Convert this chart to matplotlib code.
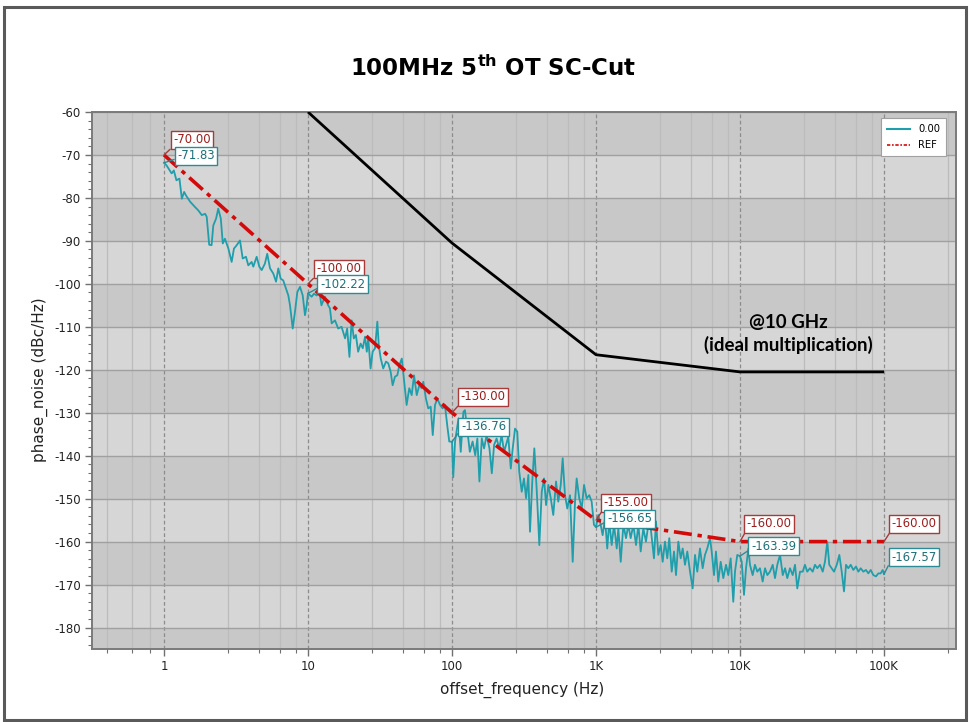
import matplotlib
matplotlib.use("Agg")
import matplotlib.pyplot as plt
from matplotlib.patches import Rectangle
from matplotlib.lines import Line2D
from matplotlib.ticker import FixedLocator, NullFormatter

plt.rcParams['mathtext.fontset'] = 'custom'
plt.rcParams['mathtext.rm'] = 'DejaVu Sans:bold'
plt.rcParams['mathtext.bf'] = 'DejaVu Sans:bold'

# ---------------- data ----------------
title = "100MHz 5$^{\\mathrm{th}}$ OT SC-Cut"
xlabel = "offset_frequency (Hz)"
ylabel = "phase_noise (dBc/Hz)"

x_ticks = [1, 10, 100, 1000, 10000, 100000]
x_tick_labels = ["1", "10", "100", "1K", "10K", "100K"]
y_ticks = [-60, -70, -80, -90, -100, -110, -120, -130, -140, -150, -160, -170, -180]

# measured trace "0.00"
meas_f = [1, 1.04, 1.13, 1.17, 1.22, 1.28, 1.33, 1.38, 1.42, 1.52, 1.64, 1.73, 1.83, 1.93, 1.98,
          2.06, 2.14, 2.20, 2.30, 2.38, 2.48, 2.56, 2.65, 2.80, 2.95, 3.06, 3.20, 3.37, 3.52, 3.71,
          3.85, 4.06, 4.17, 4.40, 4.59, 4.77, 5.02, 5.21, 5.45, 5.74, 6.00, 6.22, 6.46, 6.73, 7.03,
          7.30, 7.50, 7.83, 8.12, 8.43, 8.80, 9.19, 9.53, 9.79, 10, 10.6, 11.0, 11.5, 12.0, 12.4,
          13.1, 13.8, 14.2, 14.6, 15.4, 16.2, 17.1, 18.1, 18.7, 19.4, 20.1, 20.8, 21.5, 22.3, 23.2,
          24.0, 24.9, 25.6, 26.2, 27.2, 28.1, 29.2, 30.3, 31.0, 32.0, 33.3, 34.8, 36.1, 37.5, 38.7,
          40.2, 41.7, 43.1, 44.8, 46.4, 48.4, 50.5, 52.5, 54.5, 56.9, 59.3, 61.6, 63.2, 65.9, 68.4,
          71.1, 73.5, 76.2, 79.1, 82.6, 86.1, 89.3, 92.7, 95.7, 100, 102, 105, 111, 115, 120,
          123, 128, 133, 139, 145, 150, 155, 161, 167, 174, 182, 189, 196, 204, 213,
          221, 230, 237, 246, 256, 264, 274, 284, 293, 305, 316, 327, 339, 348, 361,
          373, 387, 404, 420, 436, 450, 467, 485, 505, 528, 547, 569, 587, 609, 632,
          660, 689, 715, 734, 765, 796, 826, 861, 898, 933, 968, 1000, 1037, 1066, 1112,
          1155, 1197, 1236, 1285, 1334, 1393, 1429, 1485, 1549, 1616, 1676, 1741, 1816, 1897, 1968,
          2044, 2130, 2224, 2307, 2371, 2527, 2610, 2709, 2812, 2904, 3013, 3126, 3228, 3356, 3483,
          3595, 3731, 3873, 4000, 4150, 4306, 4498, 4691, 4872, 5050, 5272, 5505, 5710, 5925, 6190,
          6360, 6600, 6810, 7065, 7345, 7655, 7995, 8295, 8615, 8980, 9230, 9575, 10000, 10280, 10660,
          11010, 11430, 11730, 12240, 12700, 13180, 13760, 14370, 14920, 15480, 16150, 16870, 17500, 18160, 18970,
          19810, 20550, 21300, 22240, 23230, 24100, 25000, 26100, 27250, 28250, 29310, 30600, 31970, 33170, 34420,
          35940, 37530, 38910, 40380, 41690, 43330, 44970, 46970, 48970, 50850, 52760, 54480, 56510, 58720, 61230,
          63920, 66370, 68890, 71830, 75000, 77820, 80840, 84330, 87980, 91300, 94770, 97930, 100000]
meas_db = [-71.83, -72.4, -74.3, -73.6, -75.9, -75.5, -80.2, -78.6, -79.4, -80.9, -82.1, -82.9, -84.0, -83.7, -84.4,
           -90.9, -91.0, -86.4, -84.8, -82.5, -84.8, -90.6, -89.5, -91.8, -94.9, -91.8, -91.0, -89.9, -94.1, -93.7,
           -95.7, -94.9, -96.0, -93.7, -96.0, -96.8, -95.3, -93.0, -96.4, -97.6, -99.5, -96.4, -98.8, -99.2, -101.1,
           -102.7, -105.0, -110.4, -106.5, -101.9, -100.7, -102.7, -107.3, -105.0, -102.22, -103.0, -102.3, -102.7, -101.9, -105.0,
           -103.0, -105.0, -105.7, -109.2, -108.5, -110.4, -110.0, -112.7, -110.4, -117.0, -108.5, -112.7, -111.9, -115.8, -113.9,
           -115.0, -112.3, -115.8, -112.7, -119.7, -115.8, -115.0, -108.8, -114.3, -117.4, -119.7, -118.1, -118.5, -120.5, -123.6,
           -121.6, -121.3, -118.9, -117.4, -122.4, -128.2, -124.3, -125.9, -121.3, -125.9, -123.6, -124.3, -122.8, -126.7, -129.0,
           -128.6, -135.2, -128.2, -126.7, -128.2, -129.0, -128.2, -133.0, -136.7, -136.76, -145.0, -136.7, -131.3, -139.1, -129.8,
           -129.4, -134.4, -139.1, -136.7, -139.9, -136.0, -146.0, -136.0, -138.3, -135.2, -138.3, -144.1, -137.5, -136.0, -138.3,
           -135.2, -139.1, -137.5, -135.6, -143.0, -138.3, -133.7, -134.4, -143.7, -148.4, -145.3, -149.9, -144.5, -157.7, -146.0,
           -138.3, -147.6, -160.8, -148.4, -145.3, -151.5, -146.8, -149.9, -153.8, -146.0, -150.7, -146.8, -140.6, -149.2, -152.3,
           -149.2, -164.7, -150.7, -145.3, -149.9, -152.3, -146.8, -149.9, -149.2, -150.7, -156.1, -156.65, -153.8, -155.3, -158.5,
           -154.6, -161.6, -155.3, -160.8, -156.1, -161.6, -156.9, -164.7, -156.1, -159.2, -156.1, -159.2, -156.1, -160.8, -156.1,
           -162.3, -156.9, -160.0, -156.1, -155.3, -163.9, -155.3, -163.1, -160.8, -164.7, -160.0, -163.9, -159.2, -167.0, -162.3,
           -167.8, -160.0, -163.9, -161.6, -165.4, -162.3, -167.0, -170.9, -163.1, -167.0, -161.6, -166.2, -163.1, -161.6, -159.2,
           -162.3, -167.8, -162.3, -169.3, -164.7, -168.5, -165.4, -167.8, -163.9, -174.0, -167.0, -163.1, -163.39, -164.7, -172.4,
           -166.2, -161.6, -165.4, -167.8, -165.4, -167.0, -166.2, -169.3, -166.2, -167.8, -167.0, -165.4, -168.5, -165.4, -163.1,
           -167.8, -166.2, -168.5, -166.2, -167.8, -165.4, -170.9, -167.0, -167.0, -165.4, -167.0, -166.2, -167.0, -165.4, -166.2,
           -165.4, -167.0, -164.7, -160.0, -165.4, -166.2, -167.0, -165.4, -163.1, -167.0, -171.6, -165.4, -166.2, -165.4, -166.6,
           -165.8, -167.0, -166.2, -167.0, -166.6, -167.4, -166.6, -167.8, -168.1, -167.4, -167.4, -166.6, -167.57]

# reference mask "REF"
ref_f = [1, 10, 100, 1000, 10000, 100000]
ref_db = [-70, -100, -130, -155, -160, -160]

# 10 GHz (ideal multiplication) line
ghz_f = [10, 100, 1000, 10000, 100000]
ghz_db = [-60, -90.5, -116.5, -120.5, -120.5]

ref_labels = ["-70.00", "-100.00", "-130.00", "-155.00", "-160.00", "-160.00"]
meas_label_f = [1, 10, 100, 1000, 10000, 100000]
meas_label_db = [-71.83, -102.22, -136.76, -156.65, -163.39, -167.57]
meas_labels = ["-71.83", "-102.22", "-136.76", "-156.65", "-163.39", "-167.57"]

# ---------------- styling ----------------
W, H = 969, 722
fig = plt.figure(figsize=(W / 100, H / 100), dpi=100)
fig.patch.set_facecolor("white")

L, R, B, T = 92, 956, 649, 112
ax = fig.add_axes([L / W, 1 - B / H, (R - L) / W, (B - T) / H])

teal = "#1f9eab"
red = "#d40a0a"
light = "#d6d6d6"
dark = "#c8c8c8"

ax.set_facecolor(light)
ax.set_xscale("log")
ax.set_xlim(10 ** -0.5, 10 ** 5.5)
ax.set_ylim(-185, -60)

for k in range(0, 13, 2):
    top = -60 - 10 * k
    ax.axhspan(top - 10, top, color=dark, zorder=0, lw=0)

# grid lines
minor_x = [0.4, 0.6, 0.8]
for d in [1, 10, 100, 1000, 10000, 100000]:
    minor_x += [2.8 * d, 4.6 * d, 6.4 * d, 8.2 * d]
for mx in minor_x:
    ax.axvline(mx, color="#bcbcbc", lw=0.9, zorder=0.5)
for mj in x_ticks:
    ax.axvline(mj, color="#8c8c8c", lw=0.9, ls=(0, (3, 2)), zorder=0.5)
for yt in y_ticks:
    ax.axhline(yt, color="#a0a0a0", lw=1.0, zorder=0.6)

ax.set_xticks(x_ticks)
ax.set_xticklabels(x_tick_labels)
ax.xaxis.set_minor_locator(FixedLocator(minor_x))
ax.xaxis.set_minor_formatter(NullFormatter())
ax.set_yticks(y_ticks)
ax.set_yticklabels([str(v) for v in y_ticks])
ax.yaxis.set_minor_locator(FixedLocator(list(range(-184, -59, 2))))
ax.tick_params(axis="both", which="major", length=5, width=1, color="#707070",
               labelsize=8.5, labelcolor="#222222", pad=3)
ax.tick_params(axis="both", which="minor", length=3, width=0.8, color="#707070")
for s in ax.spines.values():
    s.set_color("#7a7a7a")
    s.set_linewidth(1.4)

# data lines
ax.plot(ghz_f, ghz_db, color="black", lw=2.0, zorder=3, solid_capstyle="butt")
ax.plot(meas_f, meas_db, color=teal, lw=1.3, zorder=4)
ax.plot(ref_f, ref_db, color=red, lw=2.6, ls=(0, (5, 1.6, 1.2, 1.6)), zorder=5)

# value labels
ref_off = [(28, 15), (31, 15), (31, 16), (30, 17.5), (29, 18), (30, 18)]
meas_off = [(32, 7), (34.5, 9), (31.5, 15), (33.5, 8.6), (33.5, 10), (30, 17)]
for f, v, s, off in zip(ref_f, ref_db, ref_labels, ref_off):
    ax.annotate(s, xy=(f, v), xytext=off, textcoords="offset pixels",
                ha="center", va="center", fontsize=8.4, color="#9c1c1c",
                bbox=dict(boxstyle="square,pad=0.22", fc="white", ec="#a83a3a", lw=1.0),
                arrowprops=dict(arrowstyle="-", color="#a83a3a", lw=1.0, shrinkA=0, shrinkB=0,
                                relpos=(0, 0)),
                zorder=7, annotation_clip=False)
for f, v, s, off in zip(meas_label_f, meas_label_db, meas_labels, meas_off):
    ax.annotate(s, xy=(f, v), xytext=off, textcoords="offset pixels",
                ha="center", va="center", fontsize=8.4, color="#1d6f78",
                bbox=dict(boxstyle="square,pad=0.22", fc="white", ec="#2c8c96", lw=1.0),
                arrowprops=dict(arrowstyle="-", color="#2c8c96", lw=1.0, shrinkA=0, shrinkB=0,
                                relpos=(0, 0.3)),
                zorder=7, annotation_clip=False)

# legend
handles = [Line2D([], [], color=teal, lw=1.5),
           Line2D([], [], color=red, lw=1.2, ls=(0, (2, 1, 1, 1)))]
leg = ax.legend(handles, ["0.00", "REF"], loc="upper right",
                bbox_to_anchor=((946 - L) / (R - L), (B - 118) / (B - T)),
                borderaxespad=0, fontsize=7.2, handlelength=2.3, handletextpad=0.8,
                fancybox=False, framealpha=1, edgecolor="#a0a0a0", borderpad=0.6,
                labelspacing=0.6)
leg.get_frame().set_linewidth(0.8)
leg.set_zorder(8)

# text
fig.text(788 / W, 1 - 322 / H, "@10 GHz", ha="center", va="center",
         fontsize=13.5, fontweight="bold", family="Lato", color="black")
fig.text(788 / W, 1 - 345 / H, "(ideal multiplication)", ha="center", va="center",
         fontsize=13.5, fontweight="bold", family="Lato", color="black")

fig.text(493 / W, 1 - 68 / H, title, ha="center", va="center", fontsize=16.5,
         fontweight="bold", family="DejaVu Sans", color="black")
fig.text(522 / W, 1 - 690 / H, xlabel, ha="center", va="center", fontsize=11,
         color="#222222", family="DejaVu Sans")
fig.text(40 / W, 1 - 380 / H, ylabel, ha="center", va="center", fontsize=11,
         rotation=90, color="#222222", family="DejaVu Sans")

# outer frame
fig.patches.append(Rectangle((4 / W, 1 - 720 / H), 962 / W, 713 / H, transform=fig.transFigure,
                             fill=False, ec="#5a5a5a", lw=2.2))

fig.savefig("out.png", dpi=100)
